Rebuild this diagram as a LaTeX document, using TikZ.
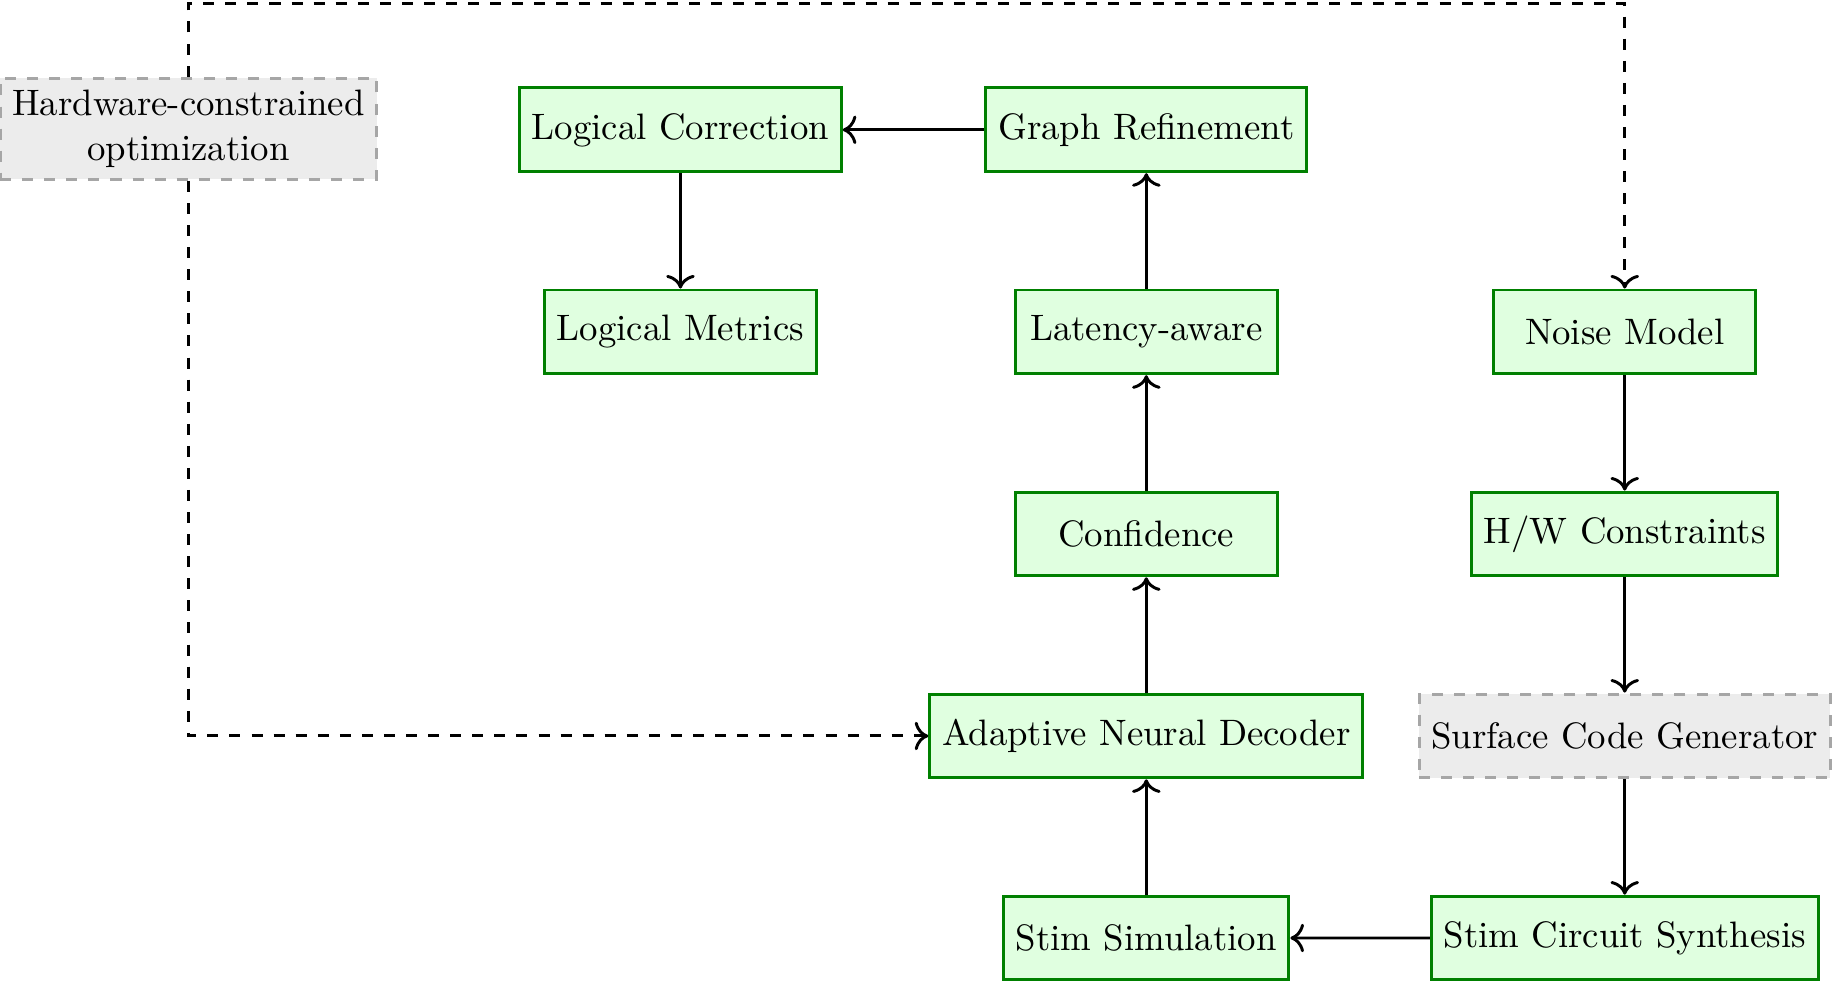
\documentclass[tikz,border=0pt]{standalone}
\usepackage{amsmath,amssymb}
\usepackage{tikz}
\usetikzlibrary{positioning}
\usetikzlibrary{arrows.meta}
\usepackage{xcolor}

\begin{document}
\begin{tikzpicture}[block/.style = {draw=green!50!black, fill=green!12, thick, minimum width=2.5cm, minimum height=0.8cm},
  ghost/.style = {draw=gray!70, fill=gray!15, thick, dashed, minimum height=0.8cm, align=center},
  flow/.style = {-{To[scale=1.1]}, thick}, node distance=1.93cm]
\useasboundingbox (0,0) rectangle (17.5,-9.4);
\node[block] (corr) at (6.50,-1.24) {Logical Correction};
\node[block] (graph) at (10.95,-1.24) {Graph Refinement};
\node[block] (metrics) [below of=corr] {Logical Metrics};
\node[block] (latency) [below of=graph] {Latency-aware};
\node[block] (conf) [below of=latency] {Confidence};
\node[block] (decoder) [below of=conf] {Adaptive Neural Decoder};
\node[block] (stimsim) [below of=decoder] {Stim Simulation};
\node[block] (noise) at (15.52,-3.17) {Noise Model};
\node[block] (hwc) [below of=noise] {H/W Constraints};
\node[ghost] (surface) [below of=hwc] {Surface Code Generator};
\node[block] (synth) [below of=surface] {Stim Circuit Synthesis};
\node[ghost] (hwopt) at (1.80,-1.23) {Hardware-constrained\\optimization};
\coordinate (ret) at (1.80,-0.03);
\path (graph) edge [flow] (corr);
\path (corr) edge [flow] (metrics);
\path (latency) edge [flow] (graph);
\path (conf) edge [flow] (latency);
\path (decoder) edge [flow] (conf);
\path (stimsim) edge [flow] (decoder);
\path (synth) edge [flow] (stimsim);
\path (noise) edge [flow] (hwc);
\path (hwc) edge [flow] (surface);
\path (surface) edge [flow] (synth);
\draw[flow, dashed] (hwopt.north) -- (ret) -| (noise.north);
\draw[flow, dashed] (hwopt.south) |- (decoder.west);
\end{tikzpicture}
\end{document}
